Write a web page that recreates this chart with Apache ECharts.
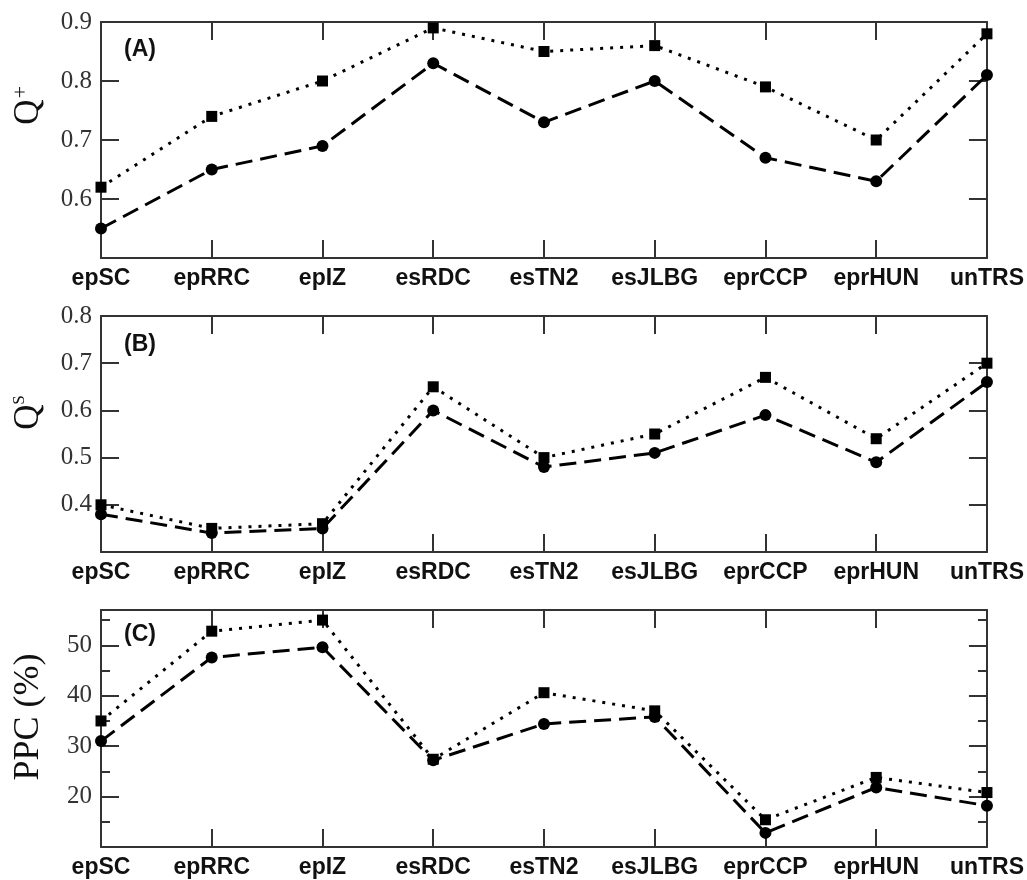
<!DOCTYPE html>
<html>
<head>
<meta charset="utf-8">
<script src="https://cdn.jsdelivr.net/npm/echarts@6/dist/echarts.min.js"></script>
<style>
html,body{margin:0;padding:0;background:#fff;}
#chart{width:1027px;height:880px;}
</style>
</head>
<body>
<div id="chart"></div>
<script>
// ---- data ----
const categories = ['epSC','epRRC','epIZ','esRDC','esTN2','esJLBG','eprCCP','eprHUN','unTRS'];
// Panel A : Q+
const qPlusSquares = [0.62,0.74,0.80,0.89,0.85,0.86,0.79,0.70,0.88];
const qPlusCircles = [0.55,0.65,0.69,0.83,0.73,0.80,0.67,0.63,0.81];
// Panel B : Qs
const qsSquares = [0.40,0.35,0.36,0.65,0.50,0.55,0.67,0.54,0.70];
const qsCircles = [0.38,0.34,0.35,0.60,0.48,0.51,0.59,0.49,0.66];
// Panel C : PPC (%)
const ppcSquares = [35.0,52.8,55.0,27.4,40.6,37.0,15.4,23.8,20.8];
const ppcCircles = [31.0,47.6,49.6,27.2,34.4,35.8,12.8,21.8,18.2];
// axis ranges [min, max, interval]
const rangeA = [0.5, 0.9, 0.1];
const rangeB = [0.3, 0.8, 0.1];
const rangeC = [10, 57, 10];
const minorC = 5;
const panelLabels = ['(A)','(B)','(C)'];

// ---- layout ----
const LEFT = 101, RIGHT = 1027 - 989;
const grids = [
  {left: LEFT, right: RIGHT, top: 22, height: 236},
  {left: LEFT, right: RIGHT, top: 316, height: 236},
  {left: LEFT, right: RIGHT, top: 610, height: 237}
];
const FRAME = '#333';
const xAxes = [], yAxes = [], series = [];

grids.forEach((g, i) => {
  xAxes.push({
    type: 'category', gridIndex: i, data: categories, boundaryGap: false, position: 'bottom',
    axisLine: {show: true, onZero: false, lineStyle: {color: FRAME, width: 2}},
    axisTick: {show: true, inside: true, length: 18, interval: 0, lineStyle: {color: FRAME, width: 2}},
    axisLabel: {show: true, interval: 0, hideOverlap: false, margin: 9, fontFamily: 'Liberation Sans', fontWeight: 'bold', fontSize: 23, color: '#111'},
    splitLine: {show: false}
  });
  xAxes.push({
    type: 'category', gridIndex: i, data: categories, boundaryGap: false, position: 'top',
    axisLine: {show: true, onZero: false, lineStyle: {color: FRAME, width: 2}},
    axisTick: {show: true, inside: true, length: 18, interval: 0, lineStyle: {color: FRAME, width: 2}},
    axisLabel: {show: false, interval: 0}, splitLine: {show: false}
  });
});

function addY(gi, r, pos, showLabel, tickLen, interval, hideMax, showLine) {
  yAxes.push({
    type: 'value', gridIndex: gi, position: pos, min: r[0], max: r[1], interval: interval,
    axisLine: {show: showLine, lineStyle: {color: FRAME, width: 2}},
    axisTick: {show: true, inside: true, length: tickLen, lineStyle: {color: FRAME, width: 2}},
    axisLabel: {show: showLabel, margin: 9, showMinLabel: false, showMaxLabel: !hideMax,
      fontFamily: 'Liberation Serif', fontSize: 25, color: '#333'},
    splitLine: {show: false}
  });
  return yAxes.length - 1;
}

const yA = addY(0, rangeA, 'left', true, 18, rangeA[2], false, true);
addY(0, rangeA, 'right', false, 18, rangeA[2], false, true);
const yB = addY(1, rangeB, 'left', true, 18, rangeB[2], false, true);
addY(1, rangeB, 'right', false, 18, rangeB[2], false, true);
const yC = addY(2, rangeC, 'left', true, 18, rangeC[2], true, true);
addY(2, rangeC, 'right', false, 18, rangeC[2], true, true);
addY(2, rangeC, 'left', false, 9, minorC, true, false);
addY(2, rangeC, 'right', false, 9, minorC, true, false);

function addPanelSeries(gi, yi, circles, squares) {
  series.push({
    type: 'line', xAxisIndex: gi * 2, yAxisIndex: yi, data: circles,
    symbol: 'circle', symbolSize: 12, showAllSymbol: true,
    itemStyle: {color: '#000'},
    lineStyle: {color: '#000', width: 3, type: [17, 8]}, z: 3
  });
  series.push({
    type: 'line', xAxisIndex: gi * 2, yAxisIndex: yi, data: squares,
    symbol: 'rect', symbolSize: 11, showAllSymbol: true,
    itemStyle: {color: '#000'},
    lineStyle: {color: '#000', width: 3, type: [3, 7]}, z: 4
  });
}
addPanelSeries(0, yA, qPlusCircles, qPlusSquares);
addPanelSeries(1, yB, qsCircles, qsSquares);
addPanelSeries(2, yC, ppcCircles, ppcSquares);

const serif = 'Liberation Serif';
const graphic = [
  // y-axis names
  {type: 'text', x: 29, y: 112, rotation: Math.PI / 2,
    style: {text: 'Q', font: '35px ' + serif, fill: '#111', align: 'center', verticalAlign: 'middle'}},
  {type: 'text', x: 21, y: 92, rotation: Math.PI / 2,
    style: {text: '+', font: '22px ' + serif, fill: '#111', align: 'center', verticalAlign: 'middle'}},
  {type: 'text', x: 29, y: 417, rotation: Math.PI / 2,
    style: {text: 'Q', font: '35px ' + serif, fill: '#111', align: 'center', verticalAlign: 'middle'}},
  {type: 'text', x: 20, y: 400, rotation: Math.PI / 2,
    style: {text: 'S', font: '17px ' + serif, fill: '#111', align: 'center', verticalAlign: 'middle'}},
  {type: 'text', x: 29, y: 717, rotation: Math.PI / 2,
    style: {text: 'PPC (%)', font: '36px ' + serif, fill: '#111', align: 'center', verticalAlign: 'middle'}},
  // panel labels
  {type: 'text', x: 124, y: 50, style: {text: panelLabels[0], font: 'bold 23px Liberation Sans', fill: '#111', align: 'left', verticalAlign: 'middle'}},
  {type: 'text', x: 124, y: 345, style: {text: panelLabels[1], font: 'bold 23px Liberation Sans', fill: '#111', align: 'left', verticalAlign: 'middle'}},
  {type: 'text', x: 124, y: 635, style: {text: panelLabels[2], font: 'bold 23px Liberation Sans', fill: '#111', align: 'left', verticalAlign: 'middle'}}
];

const chart = echarts.init(document.getElementById('chart'), null, {renderer: 'canvas'});
chart.setOption({
  animation: false,
  backgroundColor: '#fff',
  grid: grids,
  xAxis: xAxes,
  yAxis: yAxes,
  series: series,
  graphic: graphic
});
</script>
</body>
</html>
